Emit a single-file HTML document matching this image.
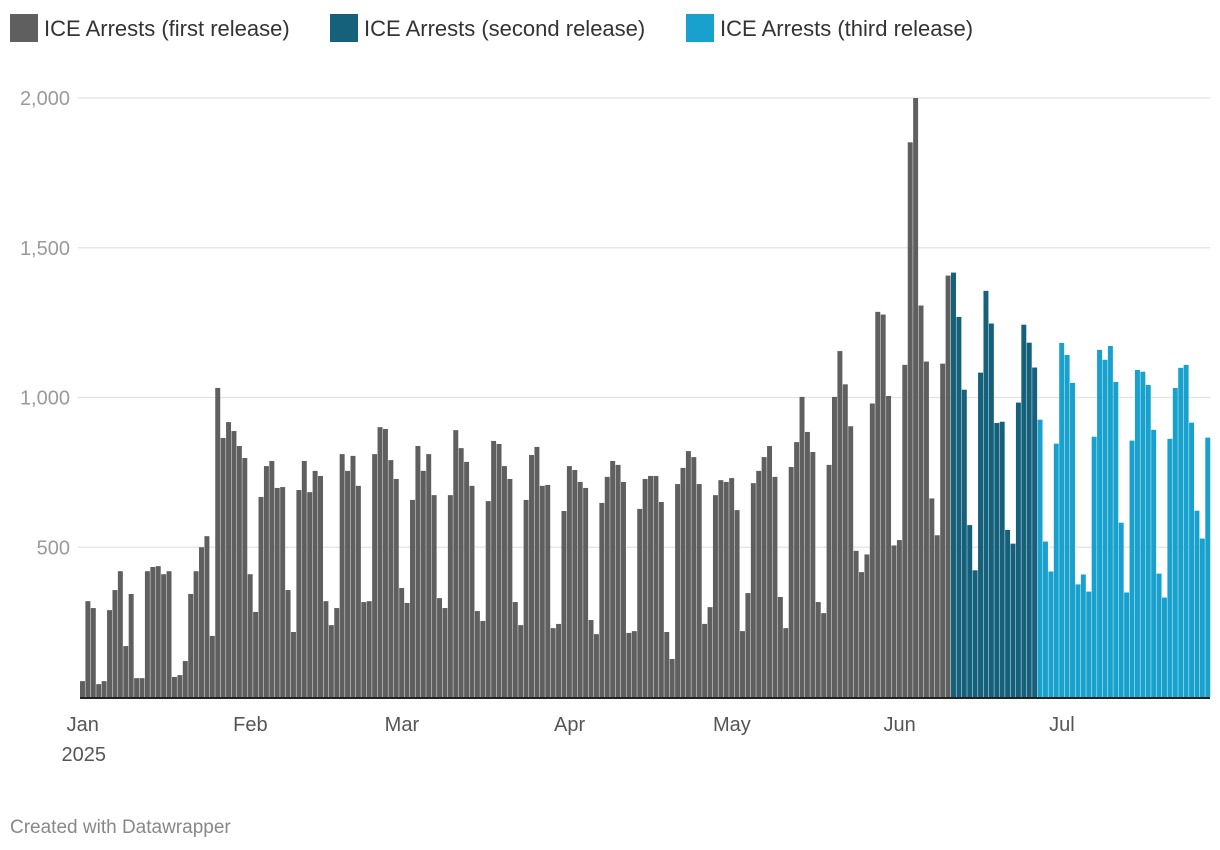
<!DOCTYPE html>
<html><head><meta charset="utf-8">
<style>
body{margin:0;background:#fff;font-family:"Liberation Sans",Arial,sans-serif;}
svg{display:block}
</style></head>
<body>
<svg id="chart" width="1220" height="850">
  <g>
    <rect x="10" y="14" width="28" height="28" fill="#5f5f5f"></rect>
    <text x="44" y="36" font-size="22" fill="#333">ICE Arrests (first release)</text>
    <rect x="330" y="14" width="28" height="28" fill="#15607a"></rect>
    <text x="364" y="36" font-size="22" fill="#333">ICE Arrests (second release)</text>
    <rect x="686" y="14" width="28" height="28" fill="#18a1cd"></rect>
    <text x="720" y="36" font-size="22" fill="#333">ICE Arrests (third release)</text>
  </g>
  <g id="grid"></g>
  <g id="bars"></g>
  <g id="xaxis"></g>
  <text x="10" y="833" font-size="19" fill="#888">Created with Datawrapper</text>
</svg>
<script>
const firstRelease = [53,320,297,43,53,290,357,420,170,344,63,63,420,434,437,410,420,67,73,120,344,420,500,537,204,1032,865,918,888,838,798,410,284,668,771,788,
698,701,357,217,691,788,684,755,738,320,240,297,811,755,805,705,317,320,811,901,895,791,728,364,314,658,838,755,811,674,330,297,674,891,831,
785,705,287,254,654,855,845,771,728,317,240,658,808,835,705,708,230,244,621,771,758,718,698,257,210,648,735,788,775,718,214,220,628,728,738,
738,651,217,127,711,765,821,801,711,244,300,674,724,718,731,624,220,347,714,755,801,838,735,334,230,768,851,1002,885,818,317,280,775,1002,1155,
1044,904,488,417,476,980,1286,1277,1005,506,524,1109,1852,2000,1307,1120,663,540,1113,1407];
const secondRelease = [1417,1269,1026,574,423,1083,1356,1247,915,919,558,512,983,1243,1183,1100];
const thirdRelease = [926,519,419,846,1182,1142,1049,376,409,352,869,1159,1126,1172,1052,582,349,856,1092,1086,1042,892,412,332,862,1032,1099,1109,916,622,529,866];
const yTicks = [500,1000,1500,2000];
const yTickLabels = ["500","1,000","1,500","2,000"];
const monthStarts = [0,31,59,90,120,151,181];
const monthLabels = ["Jan","Feb","Mar","Apr","May","Jun","Jul"];

const NS="http://www.w3.org/2000/svg";
const X0=80, STEP=5.41, Y0=697, YTOP=98, YMAX=2000;
function xScale(d){return X0+d*STEP;}
function yScale(v){return Y0-(v/YMAX)*(Y0-YTOP);}
function mk(tag,attrs,parent){const e=document.createElementNS(NS,tag);for(const k in attrs)e.setAttribute(k,attrs[k]);parent.appendChild(e);return e;}

const grid=document.getElementById('grid');
yTicks.forEach((t,i)=>{
  const y=yScale(t);
  const l=mk('line',{x1:78,x2:1210,y1:y,y2:y,stroke:'#e2e2e2','stroke-width':1.3},grid);
  
  
  const tx=mk('text',{x:70,y:y+7,'font-size':20,fill:'#9a9a9a','text-anchor':'end'},grid);
  
  
  tx.textContent=yTickLabels[i];
  const bg=mk('rect',{x:0,y:y-12,width:0,height:0,fill:'none'},grid);
});

const bars=document.getElementById('bars');
const series=[[firstRelease,'#5f5f5f','first'],[secondRelease,'#15607a','second'],[thirdRelease,'#18a1cd','third']];
let day=0;
series.forEach(([vals,col,nm])=>{
  vals.forEach(v=>{
    const y=yScale(v);
    const r=mk('rect',{x:xScale(day),y:y,width:STEP-0.45,height:Y0-y,fill:col},bars);
    
    
    day++;
  });
});

const xa=document.getElementById('xaxis');
const base=mk('line',{x1:80,x2:1210,y1:Y0+1,y2:Y0+1,stroke:'#222','stroke-width':2},xa);


monthStarts.forEach((d,i)=>{
  const t=mk('text',{x:xScale(d)+STEP/2,y:731,'font-size':20,fill:'#555','text-anchor':'middle'},xa);
  
  
  t.textContent=monthLabels[i];
});
const yr=mk('text',{x:xScale(0)+STEP/2+1,y:761,'font-size':20,fill:'#555','text-anchor':'middle'},xa);


yr.textContent='2025';
</script>
</body></html>
